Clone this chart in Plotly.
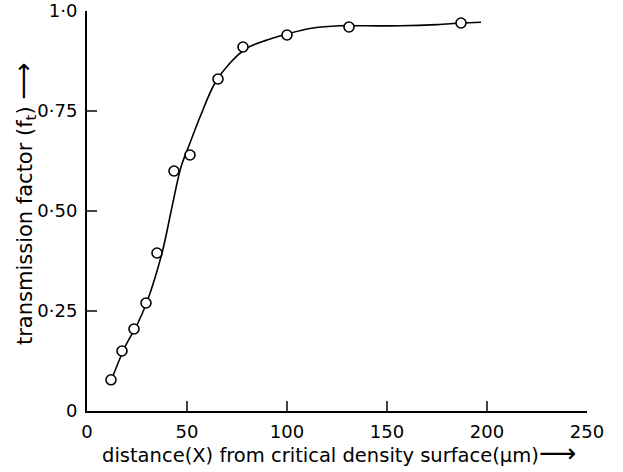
import plotly.graph_objects as go

# measured points
point_x = [12, 17.5, 23.5, 29.5, 35, 43.5, 51.5, 65.5, 78, 100, 131, 187]
point_y = [0.078, 0.15, 0.205, 0.27, 0.395, 0.60, 0.64, 0.83, 0.91, 0.94, 0.96, 0.97]

# fitted curve
curve_x = [12, 19, 25, 30, 37.5, 42.5, 47, 51.5, 56.5, 64, 71.5, 80, 90, 100, 113, 126.5, 140, 156.5, 175, 187, 197]
curve_y = [0.075, 0.16, 0.215, 0.273, 0.395, 0.51, 0.61, 0.67, 0.735, 0.82, 0.87, 0.9075, 0.9275, 0.9425,
           0.9575, 0.963, 0.963, 0.963, 0.966, 0.97, 0.972]

x_ticks = [0, 50, 100, 150, 200, 250]
x_tick_labels = ["0", "50", "100", "150", "200", "250"]
y_ticks = [0, 0.25, 0.5, 0.75, 1.0]
y_tick_labels = ["0", "0·25", "0·50", "0·75", "1·0"]

FONT = "DejaVu Sans"
ARROW = '<span style="font-size:26px">⟶</span>'

fig = go.Figure()
fig.add_trace(go.Scatter(x=curve_x, y=curve_y, mode="lines", line=dict(color="black", width=1.6, shape="spline"),
                         hoverinfo="skip", showlegend=False))
fig.add_trace(go.Scatter(x=point_x, y=point_y, mode="markers",
                         marker=dict(symbol="circle", size=10, color="white", line=dict(color="black", width=1.6)),
                         showlegend=False, cliponaxis=False))

fig.update_layout(
    width=623, height=472,
    margin=dict(l=87, r=36, t=11, b=61),
    paper_bgcolor="white", plot_bgcolor="white",
    font=dict(family=FONT, size=18, color="black"),
    xaxis=dict(range=[0, 250], tickvals=x_ticks, ticktext=x_tick_labels, ticks="inside", ticklen=10, tickwidth=2,
               showline=True, linewidth=2, linecolor="black", showgrid=False, zeroline=False,
               ticklabelstandoff=3, automargin=False, tickfont=dict(size=18)),
    yaxis=dict(range=[0, 1.0], tickvals=y_ticks, ticktext=y_tick_labels, ticks="inside", ticklen=10, tickwidth=2,
               showline=True, linewidth=2, linecolor="black", showgrid=False, zeroline=False,
               ticklabelstandoff=4, automargin=False, tickfont=dict(size=18)),
    annotations=[
        dict(text="distance(X) from critical density surface(μm)" + ARROW, xref="paper", yref="paper",
             x=0.504, y=0, yshift=-42, showarrow=False, xanchor="center", yanchor="middle",
             font=dict(family=FONT, size=19.5)),
        dict(text="transmission factor (f<sub>t</sub>) " + ARROW, xref="paper", yref="paper",
             x=0, xshift=-64, y=0.5175, showarrow=False, textangle=-90, xanchor="center", yanchor="middle",
             font=dict(family=FONT, size=21)),
    ],
)

# remove the browser's default 8px page margin so the figure sits at the window's corner
fig.write_html("out.html", config={"displayModeBar": False},
               post_script="document.body.style.margin='0';document.body.style.overflow='hidden';")
